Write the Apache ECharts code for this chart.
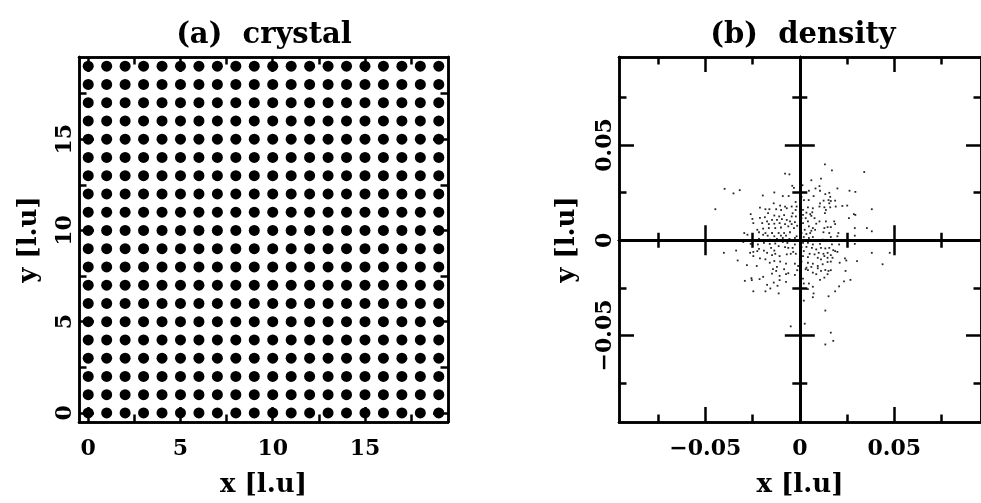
<!DOCTYPE html>
<html><head><meta charset="utf-8">
<script src="https://cdn.jsdelivr.net/npm/echarts@6/dist/echarts.min.js"></script>
<style>html,body{margin:0;padding:0;background:#fff}#c{width:981px;height:503px}</style>
</head><body><div id="c"></div>
<script>
// ---- data ----
const latticeX = [0,1,2,3,4,5,6,7,8,9,10,11,12,13,14,15,16,17,18,19];
const latticeY = [0,1,2,3,4,5,6,7,8,9,10,11,12,13,14,15,16,17,18,19];
const crystalMajorTicks = [0,5,10,15];
const crystalMinorTicks = [2.5,7.5,12.5,17.5];
const densityLabelTicks = [-0.05,0,0.05];
const densityMajorTicks = [-0.05,0.05];
const densityMinorTicks = [-0.075,-0.025,0.025,0.075];
const titles = ['(a)  crystal','(b)  density'];
const xName = 'x [l.u]';
const yName = 'y [l.u]';

// density scatter, upper-left region
const densX_ul = [-0.0078,-0.0055,-0.0040,-0.0031,-0.0398,-0.0351,-0.0318,-0.0447,-0.0196,-0.0135,
 -0.0090,-0.0059,-0.0022,-0.0138,-0.0104,-0.0078,-0.0043,-0.0211,-0.0182,-0.0161,
 -0.0125,-0.0099,-0.0069,-0.0022,-0.0260,-0.0168,-0.0135,-0.0109,-0.0083,-0.0043,
 -0.0251,-0.0211,-0.0185,-0.0173,-0.0147,-0.0121,-0.0095,-0.0069,-0.0052,-0.0026,
 -0.0246,-0.0199,-0.0164,-0.0135,-0.0107,-0.0078,-0.0043,-0.0225,-0.0194,-0.0164,
 -0.0130,-0.0100,-0.0061,-0.0031,-0.0216,-0.0182,-0.0147,-0.0112,-0.0083,-0.0052,
 -0.0294,-0.0277,-0.0194,-0.0170,-0.0135,-0.0100,-0.0073,-0.0216,-0.0159,-0.0121,
 -0.0090,-0.0055,-0.0026,-0.0017,-0.0014,-0.0021,-0.0038,-0.0017];
const densY_ul = [0.0350,0.0346,0.0286,0.0275,0.0270,0.0246,0.0263,0.0163,0.0235,0.0251,
 0.0232,0.0232,0.0201,0.0194,0.0182,0.0177,0.0177,0.0171,0.0163,0.0163,
 0.0163,0.0159,0.0168,0.0159,0.0137,0.0142,0.0130,0.0125,0.0132,0.0125,
 0.0112,0.0118,0.0121,0.0099,0.0107,0.0107,0.0111,0.0107,0.0099,0.0095,
 0.0090,0.0090,0.0085,0.0087,0.0090,0.0085,0.0085,0.0055,0.0061,0.0064,
 0.0064,0.0067,0.0073,0.0064,0.0042,0.0038,0.0038,0.0038,0.0038,0.0042,
 0.0038,0.0029,0.0029,0.0024,0.0021,0.0024,0.0024,0.0007,0.0003,0.0007,
 0.0012,0.0007,0.0012,0.0021,0.0076,0.0125,0.0142,0.0177];
// upper-right region
const densX_ur = [0.0133,0.0170,0.0341,0.0061,0.0112,0.0014,0.0104,0.0083,0.0048,0.0107,
 0.0199,0.0156,0.0135,0.0073,0.0161,0.0263,0.0294,0.0022,0.0047,0.0126,
 0.0152,0.0164,0.0187,0.0107,0.0156,0.0104,0.0130,0.0161,0.0190,0.0225,
 0.0251,0.0017,0.0043,0.0069,0.0138,0.0066,0.0055,0.0035,0.0017,0.0133,
 0.0286,0.0294,0.0381,0.0260,0.0009,0.0031,0.0061,0.0078,0.0104,0.0043,
 0.0017,0.0087,0.0138,0.0182,0.0187,0.0048,0.0069,0.0026,0.0061,0.0081,
 0.0130,0.0147,0.0164,0.0291,0.0355,0.0381,0.0009,0.0035,0.0055,0.0125,
 0.0156,0.0204,0.0021,0.0048,0.0069,0.0164,0.0199,0.0291,0.0017,0.0052,
 0.0073,0.0121,0.0147,0.0225,0.0291,0.0000,0.0000,0.0009];
const densY_ur = [0.0398,0.0367,0.0358,0.0315,0.0324,0.0289,0.0284,0.0272,0.0260,0.0260,
 0.0272,0.0249,0.0242,0.0232,0.0228,0.0260,0.0254,0.0211,0.0211,0.0208,
 0.0211,0.0206,0.0208,0.0194,0.0194,0.0177,0.0173,0.0173,0.0177,0.0180,
 0.0182,0.0159,0.0173,0.0168,0.0159,0.0147,0.0137,0.0145,0.0133,0.0142,
 0.0137,0.0133,0.0163,0.0116,0.0116,0.0116,0.0128,0.0116,0.0099,0.0099,
 0.0090,0.0087,0.0099,0.0099,0.0085,0.0073,0.0064,0.0055,0.0050,0.0055,
 0.0064,0.0069,0.0069,0.0064,0.0064,0.0047,0.0038,0.0033,0.0038,0.0042,
 0.0038,0.0038,0.0017,0.0012,0.0017,0.0017,0.0021,0.0024,0.0000,0.0000,
 0.0000,0.0003,0.0000,0.0000,0.0000,0.0064,0.0151,0.0228];
// lower-left region
const densX_ll = [-0.0299,-0.0260,-0.0222,-0.0190,-0.0159,-0.0130,-0.0090,-0.0066,-0.0026,-0.0402,
 -0.0337,-0.0263,-0.0246,-0.0225,-0.0216,-0.0190,-0.0173,-0.0152,-0.0135,-0.0112,
 -0.0078,-0.0061,-0.0038,-0.0035,-0.0021,-0.0246,-0.0211,-0.0182,-0.0147,-0.0130,
 -0.0107,-0.0069,-0.0048,-0.0329,-0.0280,-0.0228,-0.0159,-0.0135,-0.0104,-0.0073,
 -0.0026,-0.0009,-0.0121,-0.0142,-0.0125,-0.0083,-0.0014,-0.0194,-0.0147,-0.0107,
 -0.0073,-0.0061,-0.0026,-0.0256,-0.0213,-0.0291,-0.0254,-0.0138,-0.0107,-0.0073,
 -0.0173,-0.0118,-0.0156,-0.0246,-0.0182,-0.0112,-0.0048];
const densY_ll = [-0.0009,-0.0019,-0.0022,-0.0014,-0.0019,-0.0017,-0.0009,-0.0014,-0.0022,-0.0066,
 -0.0054,-0.0066,-0.0061,-0.0057,-0.0045,-0.0054,-0.0066,-0.0040,-0.0054,-0.0031,
 -0.0036,-0.0040,-0.0040,-0.0061,-0.0071,-0.0083,-0.0095,-0.0100,-0.0078,-0.0071,
 -0.0083,-0.0074,-0.0071,-0.0106,-0.0130,-0.0135,-0.0118,-0.0109,-0.0112,-0.0123,
 -0.0123,-0.0135,-0.0140,-0.0152,-0.0161,-0.0152,-0.0157,-0.0192,-0.0175,-0.0187,
 -0.0178,-0.0173,-0.0182,-0.0199,-0.0204,-0.0213,-0.0209,-0.0222,-0.0209,-0.0218,
 -0.0234,-0.0239,-0.0253,-0.0268,-0.0268,-0.0279,-0.0452];
// lower-right region
const densX_lr = [0.0017,0.0043,0.0069,0.0107,0.0170,0.0208,0.0291,0.0009,0.0035,0.0064,
 0.0087,0.0112,0.0135,0.0156,0.0177,0.0187,0.0199,0.0021,0.0052,0.0078,
 0.0100,0.0125,0.0147,0.0164,0.0017,0.0043,0.0095,0.0112,0.0130,0.0147,
 0.0173,0.0239,0.0381,0.0476,0.0303,0.0009,0.0043,0.0069,0.0095,0.0121,
 0.0147,0.0164,0.0211,0.0246,0.0438,0.0035,0.0061,0.0095,0.0043,0.0031,
 0.0069,0.0112,0.0135,0.0152,0.0164,0.0242,0.0087,0.0147,0.0130,0.0107,
 0.0268,0.0234,0.0017,0.0048,0.0021,0.0069,0.0208,0.0187,0.0073,0.0069,
 0.0043,0.0152,0.0021,0.0135,0.0026,0.0164,0.0177,0.0135,0.0000,0.0000];
const densY_lr = [-0.0014,-0.0014,-0.0022,-0.0019,-0.0022,-0.0022,-0.0019,-0.0036,-0.0035,-0.0040,
 -0.0048,-0.0040,-0.0043,-0.0040,-0.0052,-0.0057,-0.0061,-0.0057,-0.0071,-0.0074,
 -0.0066,-0.0071,-0.0066,-0.0078,-0.0083,-0.0088,-0.0092,-0.0100,-0.0083,-0.0092,
 -0.0092,-0.0095,-0.0066,-0.0066,-0.0109,-0.0112,-0.0118,-0.0123,-0.0135,-0.0126,
 -0.0114,-0.0112,-0.0118,-0.0106,-0.0126,-0.0144,-0.0140,-0.0147,-0.0157,-0.0152,
 -0.0170,-0.0161,-0.0156,-0.0161,-0.0157,-0.0161,-0.0178,-0.0178,-0.0196,-0.0208,
 -0.0208,-0.0216,-0.0201,-0.0227,-0.0227,-0.0244,-0.0242,-0.0268,-0.0279,-0.0299,
 -0.0256,-0.0294,-0.0317,-0.0369,-0.0438,-0.0485,-0.0528,-0.0547,-0.0161,-0.0100];

// ---- build ----
const crystalData = [];
latticeY.forEach(y => latticeX.forEach(x => crystalData.push([x, y])));
const densityData = [];
[[densX_ul,densY_ul],[densX_ur,densY_ur],[densX_ll,densY_ll],[densX_lr,densY_lr]].forEach(([xs,ys]) => {
  xs.forEach((x,i) => densityData.push([x, ys[i]]));
});

const FONT = 'DejaVu Serif';
const BLACK = '#000';
const LW = 2.5;
function fmt(v){ return v < 0 ? '\u2212' + String(Math.abs(v)) : String(v); }

const RA = [-0.5, 19.5];
const RBX = [-0.0957, 0.0959];
const RBY = [-0.0954, 0.0962];

function ax(o) {
  return {
    type: 'value', gridIndex: o.grid, position: o.pos, min: o.range[0], max: o.range[1],
    name: o.name || '', nameLocation: 'middle', nameGap: o.nameGap || 0,
    nameTextStyle: { fontFamily: FONT, fontWeight: 'bold', fontSize: 26, color: BLACK },
    axisLine: { show: true, onZero: o.zeroIdx !== undefined, onZeroAxisIndex: o.zeroIdx,
                lineStyle: { color: BLACK, width: LW } },
    axisTick: { show: true, inside: o.inside !== false, length: o.len, customValues: o.ticks,
                lineStyle: { color: BLACK, width: LW } },
    axisLabel: o.labels ? { show: true, customValues: o.labels, formatter: fmt, margin: o.margin,
                rotate: o.rotate || 0, fontFamily: FONT, fontWeight: 'bold', fontSize: 22, color: BLACK }
              : { show: false },
    splitLine: { show: false }, minorTick: { show: false }, minorSplitLine: { show: false }
  };
}

const xAxes = [
  // panel a (grid 0): 0..3
  ax({grid:0,pos:'bottom',range:RA,ticks:crystalMajorTicks,len:15,labels:crystalMajorTicks,margin:16,name:xName,nameGap:50}),
  ax({grid:0,pos:'bottom',range:RA,ticks:crystalMinorTicks,len:7.5}),
  ax({grid:0,pos:'top',range:RA,ticks:crystalMajorTicks,len:15}),
  ax({grid:0,pos:'top',range:RA,ticks:crystalMinorTicks,len:7.5}),
  // panel b (grid 1): 4..11
  ax({grid:1,pos:'bottom',range:RBX,ticks:densityMajorTicks,len:15,labels:densityLabelTicks,margin:16,name:xName,nameGap:50}),
  ax({grid:1,pos:'bottom',range:RBX,ticks:densityMinorTicks,len:7.5}),
  ax({grid:1,pos:'top',range:RBX,ticks:densityMajorTicks,len:15}),
  ax({grid:1,pos:'top',range:RBX,ticks:densityMinorTicks,len:7.5}),
  ax({grid:1,pos:'bottom',range:RBX,ticks:densityMajorTicks,len:15,zeroIdx:4}),
  ax({grid:1,pos:'bottom',range:RBX,ticks:densityMajorTicks,len:15,zeroIdx:4,inside:false}),
  ax({grid:1,pos:'bottom',range:RBX,ticks:densityMinorTicks,len:7.5,zeroIdx:4}),
  ax({grid:1,pos:'bottom',range:RBX,ticks:densityMinorTicks,len:7.5,zeroIdx:4,inside:false})
];
const yAxes = [
  ax({grid:0,pos:'left',range:RA,ticks:crystalMajorTicks,len:15,labels:crystalMajorTicks,margin:3,rotate:90,name:yName,nameGap:37}),
  ax({grid:0,pos:'left',range:RA,ticks:crystalMinorTicks,len:7.5}),
  ax({grid:0,pos:'right',range:RA,ticks:crystalMajorTicks,len:15}),
  ax({grid:0,pos:'right',range:RA,ticks:crystalMinorTicks,len:7.5}),
  ax({grid:1,pos:'left',range:RBY,ticks:densityMajorTicks,len:15,labels:densityLabelTicks,margin:3,rotate:90,name:yName,nameGap:39}),
  ax({grid:1,pos:'left',range:RBY,ticks:densityMinorTicks,len:7.5}),
  ax({grid:1,pos:'right',range:RBY,ticks:densityMajorTicks,len:15}),
  ax({grid:1,pos:'right',range:RBY,ticks:densityMinorTicks,len:7.5}),
  ax({grid:1,pos:'left',range:RBY,ticks:densityMajorTicks,len:15,zeroIdx:4}),
  ax({grid:1,pos:'left',range:RBY,ticks:densityMajorTicks,len:15,zeroIdx:4,inside:false}),
  ax({grid:1,pos:'left',range:RBY,ticks:densityMinorTicks,len:7.5,zeroIdx:4}),
  ax({grid:1,pos:'left',range:RBY,ticks:densityMinorTicks,len:7.5,zeroIdx:4,inside:false})
];

const chart = echarts.init(document.getElementById('c'), null, { renderer: 'canvas' });
chart.setOption({
  animation: false,
  backgroundColor: '#fff',
  grid: [
    { left: 79, top: 57, width: 369, height: 369, containLabel: false },
    { left: 619, top: 57, width: 369, height: 369, containLabel: false }
  ],
  xAxis: xAxes,
  yAxis: yAxes,
  graphic: [
    { type: 'text', x: 264, y: 35, style: { text: titles[0], textAlign: 'center', textVerticalAlign: 'middle',
      font: 'bold 29px "DejaVu Serif"', fill: BLACK } },
    { type: 'text', x: 803, y: 35, style: { text: titles[1], textAlign: 'center', textVerticalAlign: 'middle',
      font: 'bold 29px "DejaVu Serif"', fill: BLACK } }
  ],
  series: [
    { type: 'scatter', xAxisIndex: 0, yAxisIndex: 0, data: crystalData, symbol: 'circle', symbolSize: 11,
      itemStyle: { color: BLACK, opacity: 1 }, silent: true },
    { type: 'scatter', xAxisIndex: 4, yAxisIndex: 4, data: densityData, symbol: 'rect', symbolSize: 1.8,
      itemStyle: { color: '#000', opacity: 0.85 }, silent: true }
  ]
});
</script>
</body></html>
